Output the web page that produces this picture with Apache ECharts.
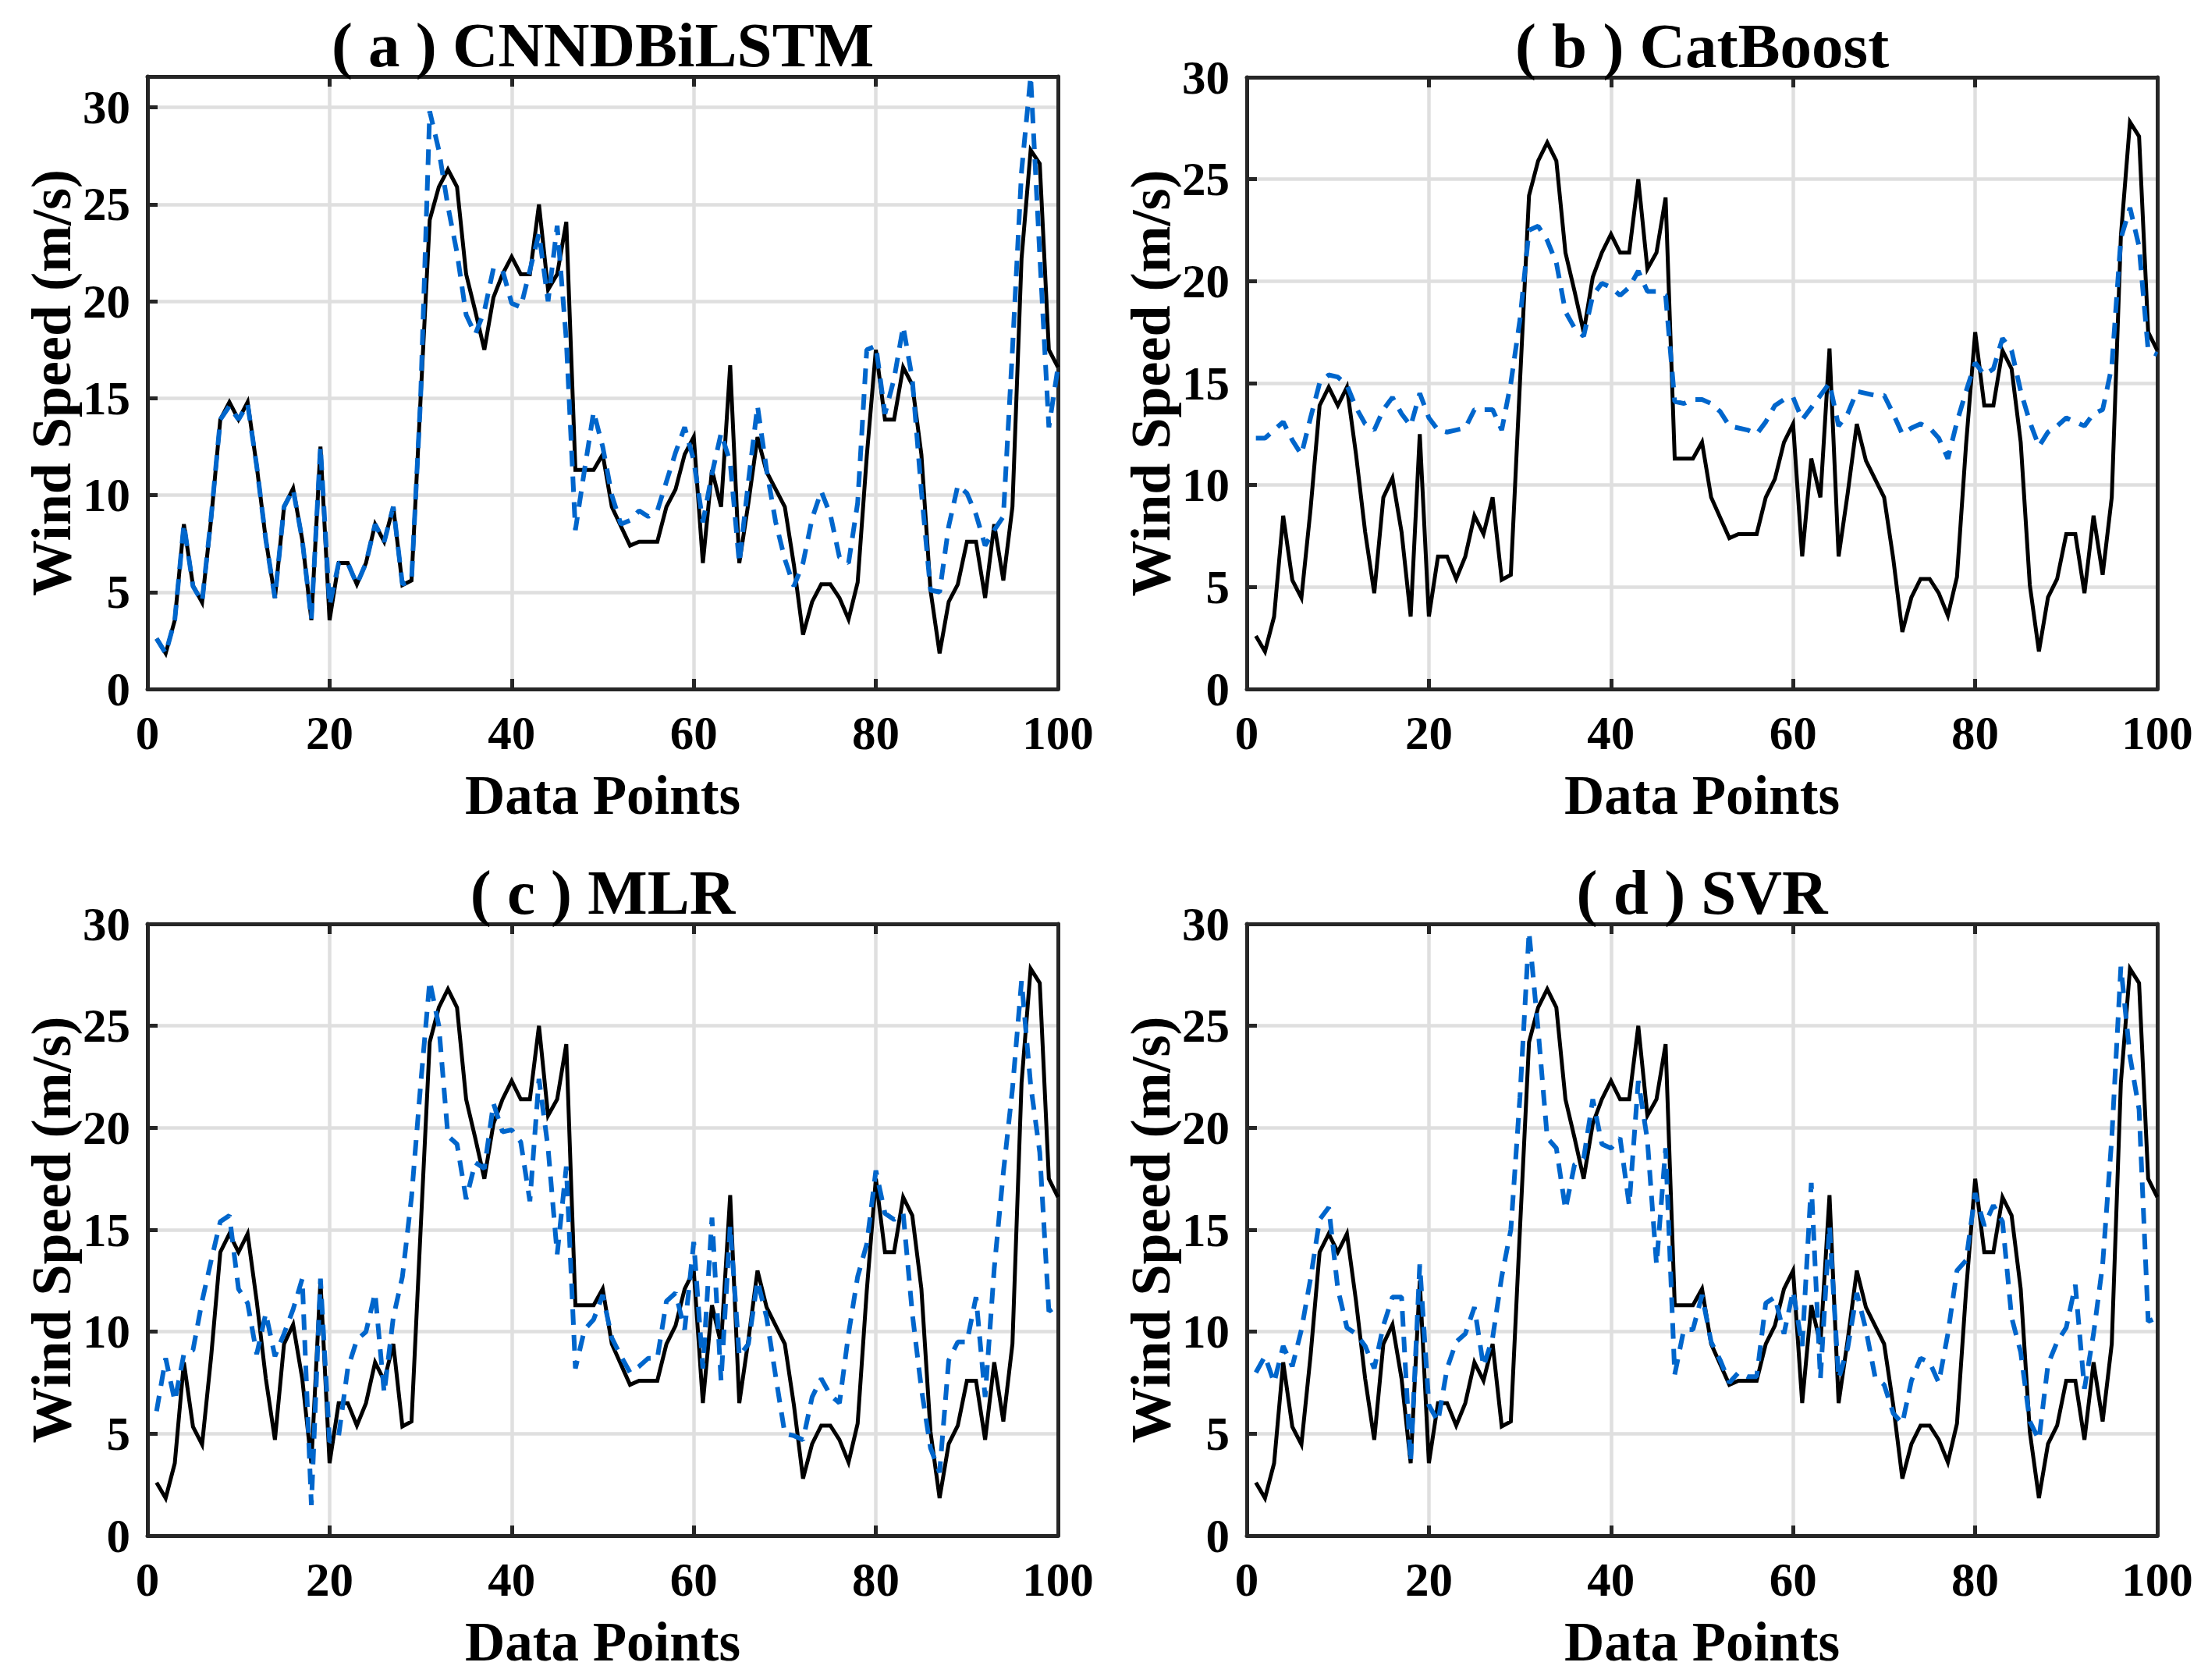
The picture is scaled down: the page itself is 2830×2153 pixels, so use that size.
<!DOCTYPE html>
<html><head><meta charset="utf-8">
<script src="https://cdn.jsdelivr.net/npm/echarts@6/dist/echarts.min.js"></script>
<style>html,body{margin:0;padding:0;background:#fff}#c{width:2830px;height:2153px}</style>
</head><body><div id="c"></div>
<script>
const titles = ['( a ) CNNDBiLSTM', '( b ) CatBoost', '( c ) MLR', '( d ) SVR'];
const xAxisName = 'Data Points';
const yAxisName = 'Wind Speed (m/s)';
const xTicks = [0, 20, 40, 60, 80, 100];
const yTicks = [0, 5, 10, 15, 20, 25, 30];

const actual = [2.6,1.84,3.55,8.5,5.34,4.47,8.8,13.9,14.8,13.9,14.8,11.5,7.7,4.7,9.4,10.35,7.7,3.55,12.5,3.55,
6.5,6.5,5.4,6.5,8.5,7.6,9.4,5.36,5.6,15,24.2,25.9,26.8,25.9,21.4,19.5,17.5,20.2,21.4,22.3,
21.4,21.4,25.0,20.6,21.4,24.1,11.3,11.3,11.3,12.1,9.4,8.4,7.4,7.6,7.6,7.6,9.4,10.3,12.1,13.0,
6.5,11.3,9.4,16.7,6.5,9.6,13.0,11.2,10.3,9.4,6.4,2.8,4.5,5.4,5.4,4.7,3.6,5.5,12,17.5,
13.9,13.9,16.6,15.7,12.1,5.1,1.84,4.5,5.4,7.6,7.6,4.7,8.5,5.6,9.4,22.2,27.8,27.1,17.5,16.6];

const cnndbilstm = [2.6,1.84,3.55,8.5,5.3,4.5,8.9,13.9,14.6,13.9,14.7,11.5,7.7,4.7,9.4,10.3,7.7,3.6,12.5,4.3,
6.5,6.5,5.4,6.5,8.5,7.6,9.4,5.4,5.6,15,29.8,27.8,24.9,22.5,19.3,18.3,19.5,21.7,21.6,19.9,
19.7,21.6,23.5,20.0,23.9,18.0,8.2,11.3,14.3,12.5,10.0,8.5,8.7,9.2,8.9,9.2,10.7,12.2,13.5,11.8,
8.6,11.1,13.2,11.7,6.5,10.7,14.6,11.3,8.6,6.7,5.3,6.5,8.8,10.2,9.0,6.8,6.5,9.6,17.5,17.7,
14.2,16.0,18.7,16.0,10.2,5.1,5.0,8.4,10.5,10.1,9.0,7.4,8.2,8.9,17.5,26.7,31.6,22.4,13.5,16.6];

const catboost = [12.3,12.3,12.7,13.1,12.2,11.5,13.3,15.0,15.4,15.3,14.9,13.8,13.0,12.7,13.7,14.3,13.5,12.9,14.5,13.3,
12.7,12.6,12.7,12.8,13.7,13.7,13.7,12.7,15.0,18.1,22.5,22.7,22.0,20.9,18.5,17.7,17.3,19.3,19.9,19.7,
19.3,19.7,20.5,19.5,19.5,19.3,14.1,14.0,14.2,14.2,14.0,13.6,12.9,12.8,12.7,12.5,13.1,13.9,14.2,14.3,
13.2,13.8,14.4,15.0,12.9,13.5,14.6,14.5,14.4,14.4,13.5,12.5,12.8,13.0,12.8,12.3,11.3,13.1,14.6,16.0,
15.4,15.7,17.2,16.6,14.6,13.1,11.9,12.6,12.9,13.3,13.1,12.9,13.5,13.7,15.8,22.1,23.6,21.7,16.6,16.4];

const mlr = [6.1,8.7,6.6,8.9,9.1,11.5,13.5,15.4,15.7,12.1,11.4,8.9,10.9,8.8,9.9,11.1,12.6,1.5,12.6,4.6,
4.9,8.2,9.6,10.0,11.9,7.0,10.7,12.7,16.6,22.1,27.2,25.0,19.6,19.2,16.5,18.3,18.0,21.2,19.8,19.9,
19.3,16.4,22.4,19.0,13.8,18.1,8.2,10.1,10.6,11.8,9.7,8.8,8.0,8.3,8.7,8.7,11.5,11.9,10.1,14.4,
8.2,15.6,7.6,15.2,8.8,9.4,12.5,10.7,7.8,5.0,4.9,4.7,6.8,7.7,6.9,6.5,9.9,12.7,14.3,17.9,
15.8,15.5,15.8,10.9,7.2,4.3,3.1,8.6,9.5,9.5,11.7,6.8,13.1,17.8,21.9,27.2,22.1,18.8,11.0,11.3];

const svr = [8.0,8.8,7.5,9.3,8.3,10.1,12.6,15.5,16.1,12.1,10.2,9.9,9.3,8.2,10.3,11.7,11.7,3.6,13.3,6.4,
5.6,8.2,9.5,9.9,11.2,8.3,9.7,12.7,15.0,21.5,29.6,24.8,19.5,19.0,16.0,18.2,18.5,21.4,19.2,19.0,
19.5,16.2,22.3,19.4,13.3,19.0,7.9,10.1,10.1,11.8,9.5,8.6,7.5,8.0,7.8,7.8,11.4,11.7,9.9,12.0,
9.3,17.3,7.7,15.2,7.7,9.2,11.9,10.1,7.8,7.4,6.0,5.5,7.6,8.7,8.5,7.5,9.9,13.0,13.5,16.8,
15.2,16.2,15.4,10.7,9.0,5.6,4.7,8.4,9.5,10.2,12.3,7.2,9.9,13.3,19.5,27.9,23.5,20.9,10.5,10.7];

const predicted = [cnndbilstm, catboost, mlr, svr];

const boxes = [
  {left: 189, top: 98, width: 1167, height: 785},
  {left: 1598, top: 99, width: 1167, height: 784},
  {left: 189, top: 1184, width: 1167, height: 784},
  {left: 1598, top: 1184, width: 1167, height: 784}
];

const FONT = '"Liberation Serif", "Times New Roman", serif';
const AX = '#262626';
const BLUE = '#0066CC';
const GRID = '#dfdfdf';

const toXY = arr => arr.map((v, i) => [i + 1, v]);

const grid = [], xAxis = [], yAxis = [], series = [], graphic = [];
boxes.forEach((b, k) => {
  grid.push(Object.assign({outerBoundsMode: 'none', containLabel: false, show: false}, b));
  const yMaxFn = v => Math.max(30, v.max);
  const tickStyle = {show: true, inside: true, length: 13, lineStyle: {color: AX, width: 5}};
  xAxis.push({
    gridIndex: k, type: 'value', min: xTicks[0], max: xTicks[xTicks.length - 1], interval: 20,
    position: 'bottom', z: 1,
    axisLine: {show: true, onZero: false, lineStyle: {color: AX, width: 5}},
    axisTick: tickStyle,
    axisLabel: {show: true, margin: 26, color: '#000', fontSize: 61, fontWeight: 'bold', fontFamily: FONT},
    splitLine: {show: true, lineStyle: {color: GRID, width: 4.5}},
    name: xAxisName, nameLocation: 'middle', nameGap: 100,
    nameTextStyle: {color: '#000', fontSize: 71, fontWeight: 'bold', fontFamily: FONT}
  });
  xAxis.push({
    gridIndex: k, type: 'value', min: xTicks[0], max: xTicks[xTicks.length - 1], interval: 20,
    position: 'top', z: 1,
    axisLine: {show: true, onZero: false, lineStyle: {color: AX, width: 5}},
    axisTick: tickStyle, axisLabel: {show: false}, splitLine: {show: false}
  });
  yAxis.push({
    gridIndex: k, type: 'value', min: yTicks[0], max: yMaxFn, interval: 5,
    position: 'left', z: 1,
    axisLine: {show: true, onZero: false, lineStyle: {color: AX, width: 5}},
    axisTick: tickStyle,
    axisLabel: {show: true, margin: 22, color: '#000', fontSize: 61, fontWeight: 'bold', fontFamily: FONT,
      formatter: v => (yTicks.indexOf(v) >= 0 ? String(v) : '')},
    splitLine: {show: true, lineStyle: {color: GRID, width: 4.5}},
    name: yAxisName, nameLocation: 'middle', nameGap: 87, nameRotate: 90,
    nameTextStyle: {color: '#000', fontSize: 72, fontWeight: 'bold', fontFamily: FONT}
  });
  yAxis.push({
    gridIndex: k, type: 'value', min: yTicks[0], max: yMaxFn, interval: 5,
    position: 'right', z: 1,
    axisLine: {show: true, onZero: false, lineStyle: {color: AX, width: 5}},
    axisTick: tickStyle, axisLabel: {show: false}, splitLine: {show: false}
  });
  series.push({
    type: 'line', xAxisIndex: 2 * k, yAxisIndex: 2 * k, data: toXY(actual),
    showSymbol: false, symbol: 'none', silent: true, clip: true, z: 3,
    lineStyle: {color: '#000', width: 5, join: 'miter'}
  });
  series.push({
    type: 'line', xAxisIndex: 2 * k, yAxisIndex: 2 * k, data: toXY(predicted[k]),
    showSymbol: false, symbol: 'none', silent: true, clip: true, z: 4,
    lineStyle: {color: BLUE, width: 6, type: [20, 13]}
  });
  graphic.push({
    type: 'text', x: b.left + b.width / 2, y: b.top - 40, z: 10,
    style: {text: titles[k], fill: '#000', fontSize: 81, fontWeight: 'bold', fontFamily: FONT,
      align: 'center', verticalAlign: 'middle'}
  });
});

const chart = echarts.init(document.getElementById('c'), null, {renderer: 'svg', width: 2830, height: 2153});
chart.setOption({
  backgroundColor: '#ffffff', animation: false,
  grid, xAxis, yAxis, series, graphic
});
</script></body></html>
